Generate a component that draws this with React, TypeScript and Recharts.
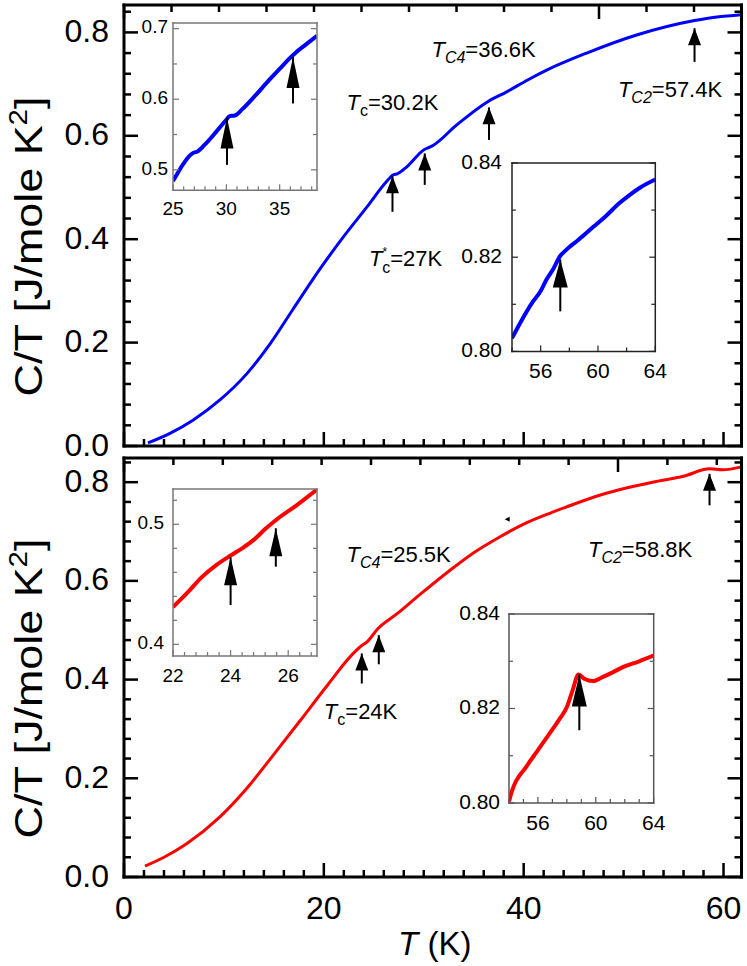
import { ComposedChart, Line, Scatter, XAxis, YAxis, ReferenceLine } from 'recharts'

const FONT = '"Liberation Sans", Arial, Helvetica, sans-serif'

// top panel (blue) main curve
const TOP_T = [2.4, 4.6, 6.9, 9.6, 12.3, 14.6, 16.9, 19.6, 21.9, 24.3, 26.3, 26.9, 27.4, 28.3, 30.1, 30.6, 30.9, 33.3, 36.4, 38.3, 40.4, 42.3, 46.3, 51.3, 57.1, 58.3, 61.8]
const TOP_C = [0.006, 0.0245, 0.05, 0.089, 0.14, 0.197, 0.264, 0.342, 0.403, 0.462, 0.512, 0.524, 0.527, 0.54, 0.574, 0.578, 0.581, 0.621, 0.666, 0.685, 0.708, 0.727, 0.76, 0.795, 0.823, 0.827, 0.834]

// bottom panel (red) main curve
const BOT_T = [2.1, 4.0, 6.3, 9.6, 12.3, 14.9, 17.6, 20.3, 22.9, 23.8, 24.3, 25.4, 27.3, 29.6, 32.6, 35.0, 37.6, 40.0, 42.6, 44.3, 48.0, 52.9, 56.0, 58.6, 59.9, 61.8]
const BOT_C = [0.022, 0.04, 0.068, 0.122, 0.18, 0.246, 0.316, 0.387, 0.452, 0.469, 0.476, 0.503, 0.533, 0.572, 0.621, 0.657, 0.689, 0.715, 0.737, 0.75, 0.776, 0.8, 0.812, 0.827, 0.825, 0.831]

// insets
const TL_T = [25, 25.5, 26, 26.5, 26.9, 27.3, 28, 29, 30, 30.3, 30.8, 31.5, 32.7, 34, 35, 36, 36.5, 37.5, 38.5]
const TL_C = [0.484, 0.497, 0.509, 0.519, 0.524, 0.526, 0.536, 0.553, 0.571, 0.576, 0.577, 0.586, 0.605, 0.627, 0.643, 0.659, 0.666, 0.678, 0.69]
const TR_T = [54, 54.6, 55.4, 56.0, 56.4, 56.9, 57.35, 57.8, 58.6, 59.7, 60.5, 61.5, 62.2, 62.9, 64]
const TR_C = [0.8028, 0.8062, 0.8103, 0.8128, 0.8152, 0.8176, 0.8202, 0.8216, 0.8236, 0.8265, 0.8286, 0.8315, 0.8332, 0.8347, 0.8365]
const BL_T = [22, 22.5, 23, 23.5, 24, 24.4, 24.8, 25.2, 25.6, 26.3, 27]
const BL_C = [0.431, 0.443, 0.456, 0.466, 0.474, 0.48, 0.487, 0.496, 0.504, 0.516, 0.529]
const BR_T = [54, 54.2, 55.2, 56.0, 56.8, 57.5, 58.0, 58.4, 58.8, 59.2, 59.8, 60.5, 61.2, 61.9, 63.0, 64]
const BR_C = [0.8003, 0.8025, 0.8077, 0.8112, 0.8147, 0.8178, 0.8203, 0.8239, 0.8272, 0.8263, 0.8258, 0.8267, 0.8277, 0.8288, 0.83, 0.8312]

// arrows: temperature, tip value, tail value
const TOP_ARROW_T = [26.87, 30.1, 36.53, 57.1]
const TOP_ARROW_TIP = [0.522, 0.566, 0.655, 0.808]
const TOP_ARROW_TAIL = [0.453, 0.505, 0.592, 0.743]
const BOT_ARROW_T = [23.8, 25.5, 58.6]
const BOT_ARROW_TIP = [0.453, 0.49, 0.817]
const BOT_ARROW_TAIL = [0.392, 0.431, 0.753]
const TL_ARROW_T = [30.06, 36.25]
const TL_ARROW_TIP = [0.574, 0.66]
const TL_ARROW_TAIL = [0.507, 0.594]
const TR_ARROW_T = [57.37]
const TR_ARROW_TIP = [0.8195]
const TR_ARROW_TAIL = [0.8085]
const BL_ARROW_T = [24.0, 25.57]
const BL_ARROW_TIP = [0.4725, 0.4967]
const BL_ARROW_TAIL = [0.4328, 0.4647]
const BR_ARROW_T = [58.86]
const BR_ARROW_TIP = [0.8272]
const BR_ARROW_TAIL = [0.8154]

// annotations
const TOP_NOTE_T = [22.27, 30.77, 49.43, 24.53]
const TOP_NOTE_C = [0.65, 0.752, 0.676, 0.348]
const TOP_NOTE_SUB = ['c', 'C4', 'C2', 'c']
const TOP_NOTE_VAL = ['=30.2K', '=36.6K', '=57.4K', '=27K']
const TOP_NOTE_STAR = [false, false, false, true]
const BOT_NOTE_T = [22.27, 46.43, 20.0]
const BOT_NOTE_C = [0.638, 0.648, 0.321]
const BOT_NOTE_SUB = ['C4', 'C2', 'c']
const BOT_NOTE_VAL = ['=25.5K', '=58.8K', '=24K']
const BOT_NOTE_STAR = [false, false, false]
const BOT_SPECK_T = [38.4]
const BOT_SPECK_C = [0.725]

// axis ticks
const MAIN_T_MAJOR = [0, 20, 40, 60]
const MAIN_C_MAJOR = [0, 0.2, 0.4, 0.6, 0.8]
const TL_T_MAJOR = [25, 30, 35]
const TL_C_MAJOR = [0.5, 0.6, 0.7]
const TR_T_MAJOR = [56, 60, 64]
const TR_C_MAJOR = [0.8, 0.82, 0.84]
const BL_T_MAJOR = [22, 24, 26]
const BL_C_MAJOR = [0.4, 0.5]
const BR_T_MAJOR = [56, 60, 64]
const BR_C_MAJOR = [0.8, 0.82, 0.84]

const range = (a: number, b: number, step: number) => {
  const out: number[] = []
  for (let i = 0; a + i * step <= b + 1e-9; i++) out.push(Math.round((a + i * step) * 10000) / 10000)
  return out
}
const zip = (t: number[], c: number[]) => t.map((T, i) => ({ T, C: c[i] }))
const isIn = (v: number, arr: number[]) => arr.some((a) => Math.abs(a - v) < 1e-6)

type Side = 'bottom' | 'top' | 'left' | 'right'
interface TickStyle {
  side: Side
  majors: number[]
  long: number
  short: number
  color: string
  width: number
  fmt?: (v: number) => string
  fontSize?: number
  gap?: number
}

function makeTick(s: TickStyle) {
  return (p: any) => {
    const { x, y, payload } = p
    const v = payload.value as number
    const major = isIn(v, s.majors)
    const len = major ? s.long : s.short
    const dx = s.side === 'left' ? len : s.side === 'right' ? -len : 0
    const dy = s.side === 'bottom' ? -len : s.side === 'top' ? len : 0
    let label = null
    if (major && s.fmt) {
      if (s.side === 'bottom')
        label = (
          <text x={x} y={y + (s.gap || 0)} textAnchor="middle" fontSize={s.fontSize} fontFamily={FONT} fill="#000">
            {s.fmt(v)}
          </text>
        )
      else if (s.side === 'left')
        label = (
          <text x={x - (s.gap || 0)} y={y - 2} dy="0.36em" textAnchor="end" fontSize={s.fontSize} fontFamily={FONT} fill="#000">
            {s.fmt(v)}
          </text>
        )
    }
    return (
      <g>
        <line x1={x} y1={y} x2={x + dx} y2={y + dy} stroke={s.color} strokeWidth={s.width} />
        {label}
      </g>
    )
  }
}

function arrowHead(w: number, h: number) {
  return (p: any) => {
    const { cx, cy } = p
    return <path d={`M${cx},${cy} L${cx - w / 2},${cy + h} L${cx + w / 2},${cy + h} Z`} fill="#000" />
  }
}

function Note(p: any) {
  const { cx, cy, payload } = p
  const star = payload.star
  const upper = payload.sub !== 'c'
  return (
    <text x={cx} y={cy} fontSize={22} fontFamily={FONT} fill="#000">
      <tspan fontStyle="italic">T</tspan>
      {star && (
        <tspan fontSize={12} dy={-10}>
          *
        </tspan>
      )}
      <tspan fontSize={16} fontStyle={upper ? 'italic' : 'normal'} dx={star ? -5 : 0} dy={star ? 17 : 6}>
        {payload.sub}
      </tspan>
      <tspan fontStyle="normal" dy={star ? -7 : -6}>
        {payload.val}
      </tspan>
    </text>
  )
}

function Speck(p: any) {
  const { cx, cy } = p
  return <path d={`M${cx - 3},${cy} L${cx + 2},${cy - 2.5} L${cx + 2},${cy + 2.5} Z`} fill="#000" />
}

function YTitle(p: any) {
  const vb = p.viewBox || { x: 123, y: 5, width: 1, height: 441 }
  const cx = vb.x + (vb.width || 0) - 82
  const cy = vb.y + vb.height / 2 + 21
  return (
    <text
      x={cx}
      y={cy}
      transform={`rotate(-90 ${cx} ${cy})`}
      textAnchor="middle"
      fontSize={38}
      fontFamily={FONT}
      fill="#000"
      textLength={300}
      lengthAdjust="spacingAndGlyphs"
    >
      C/T [J/mole K<tspan fontSize={25} dy={-15}>2</tspan>
      <tspan dy={15}>]</tspan>
    </text>
  )
}

function XTitle(p: any) {
  const vb = p.viewBox || { x: 124, y: 425, width: 617.5 }
  return (
    <text x={vb.x + vb.width / 2 + 2} y={vb.y + 78} textAnchor="middle" fontSize={33} fontFamily={FONT} fill="#000">
      <tspan fontStyle="italic">T</tspan> (K)
    </text>
  )
}

interface PanelProps {
  top: number
  height: number
  marginTop: number
  marginBottom: number
  yMax: number
  color: string
  t: number[]
  c: number[]
  arrowT: number[]
  arrowTip: number[]
  arrowTail: number[]
  noteT: number[]
  noteC: number[]
  noteSub: string[]
  noteVal: string[]
  noteStar: boolean[]
  showX: boolean
  speckT?: number[]
  speckC?: number[]
}

function Panel(p: PanelProps) {
  const data = zip(p.t, p.c)
  const arrows = zip(p.arrowT, p.arrowTip)
  const notes = p.noteT.map((T, i) => ({ T, C: p.noteC[i], sub: p.noteSub[i], val: p.noteVal[i], star: p.noteStar[i] }))
  const tTicks = range(0, 60, 2)
  const cTicks = range(0, 0.84, 0.04)
  const base = { majors: MAIN_T_MAJOR, long: 14, short: 7, color: '#000', width: 2.5 }
  const yBase = { majors: MAIN_C_MAJOR, long: 14, short: 7, color: '#000', width: 2.5 }
  const axisLine = { stroke: '#000', strokeWidth: 3, strokeLinecap: 'square' as const }
  return (
    <div style={{ position: 'absolute', left: 0, top: p.top }}>
      <ComposedChart
        width={747}
        height={p.height}
        data={data}
        margin={{ top: p.marginTop - 1, right: 4.5, bottom: p.marginBottom - 1, left: 123 }}
      >
        <XAxis
          xAxisId="b"
          dataKey="T"
          type="number"
          domain={[0, 61.8]}
          ticks={tTicks}
          interval={0}
          allowDataOverflow
          height={1}
          tickSize={0}
          tickMargin={0}
          tickLine={false}
          axisLine={axisLine}
          tick={makeTick({ ...base, side: 'bottom', fmt: p.showX ? (v) => String(v) : undefined, fontSize: 32, gap: 42 })}
          label={p.showX ? { content: (lp: any) => <XTitle {...lp} /> } : undefined}
        />
        <XAxis
          xAxisId="t"
          orientation="top"
          type="number"
          domain={[0, 61.8]}
          ticks={tTicks}
          interval={0}
          allowDataOverflow
          height={1}
          tickSize={0}
          tickMargin={0}
          tickLine={false}
          axisLine={axisLine}
          tick={makeTick({ ...base, side: 'top' })}
        />
        <YAxis
          yAxisId="l"
          dataKey="C"
          type="number"
          domain={[0, p.yMax]}
          ticks={cTicks}
          interval={0}
          allowDataOverflow
          width={1}
          tickSize={0}
          tickMargin={0}
          tickLine={false}
          axisLine={axisLine}
          tick={makeTick({ ...yBase, side: 'left', fmt: (v) => v.toFixed(1), fontSize: 32, gap: 15 })}
          label={{ content: (lp: any) => <YTitle {...lp} /> }}
        />
        <YAxis
          yAxisId="r"
          orientation="right"
          type="number"
          domain={[0, p.yMax]}
          ticks={cTicks}
          interval={0}
          allowDataOverflow
          width={1}
          tickSize={0}
          tickMargin={0}
          tickLine={false}
          axisLine={axisLine}
          tick={makeTick({ ...yBase, side: 'right' })}
        />
        <Line
          xAxisId="b"
          yAxisId="l"
          dataKey="C"
          type="monotone"
          stroke={p.color}
          strokeWidth={3}
          dot={false}
          activeDot={false}
          isAnimationActive={false}
        />
        {p.arrowT.map((t, i) => (
          <ReferenceLine
            key={'s' + i}
            xAxisId="b"
            yAxisId="l"
            segment={[
              { x: t, y: p.arrowTail[i] },
              { x: t, y: p.arrowTip[i] },
            ]}
            stroke="#000"
            strokeWidth={2}
            ifOverflow="visible"
          />
        ))}
        <Scatter xAxisId="b" yAxisId="l" data={arrows} shape={arrowHead(13, 17)} isAnimationActive={false} />
        <Scatter xAxisId="b" yAxisId="l" data={notes} shape={(sp: any) => <Note {...sp} />} isAnimationActive={false} />
        {p.speckT && (
          <Scatter xAxisId="b" yAxisId="l" data={zip(p.speckT, p.speckC || [])} shape={(sp: any) => <Speck {...sp} />} isAnimationActive={false} />
        )}
      </ComposedChart>
    </div>
  )
}

interface InsetProps {
  x0: number
  y0: number
  w: number
  h: number
  color: string
  t: number[]
  c: number[]
  xDom: [number, number]
  yDom: [number, number]
  xTicks: number[]
  yTicks: number[]
  xMajors: number[]
  yMajors: number[]
  yFmt: (v: number) => string
  fontSize: number
  xGap: number
  yGap: number
  frame: string
  arrowT: number[]
  arrowTip: number[]
  arrowTail: number[]
  headW: number
  headH: number
}

function Inset(p: InsetProps) {
  const m = { top: 12, right: 14, bottom: 40, left: 60 }
  const data = zip(p.t, p.c)
  const arrows = zip(p.arrowT, p.arrowTip)
  const axisLine = { stroke: p.frame, strokeWidth: 1.5, strokeLinecap: 'square' as const }
  const xs = { majors: p.xMajors, long: 6, short: 4, color: p.frame, width: 1.2 }
  const ys = { majors: p.yMajors, long: 6, short: 4, color: p.frame, width: 1.2 }
  return (
    <div style={{ position: 'absolute', left: p.x0 - m.left, top: p.y0 - m.top }}>
      <ComposedChart
        width={p.w + m.left + m.right}
        height={p.h + m.top + m.bottom}
        data={data}
        margin={{ top: m.top - 1, right: m.right - 1, bottom: m.bottom - 1, left: m.left - 1 }}
      >
        <XAxis
          xAxisId="b"
          dataKey="T"
          type="number"
          domain={p.xDom}
          ticks={p.xTicks}
          interval={0}
          allowDataOverflow
          height={1}
          tickSize={0}
          tickMargin={0}
          tickLine={false}
          axisLine={axisLine}
          tick={makeTick({ ...xs, side: 'bottom', fmt: (v) => String(v), fontSize: p.fontSize, gap: p.xGap })}
        />
        <XAxis
          xAxisId="t"
          orientation="top"
          type="number"
          domain={p.xDom}
          ticks={p.xTicks}
          interval={0}
          allowDataOverflow
          height={1}
          tickSize={0}
          tickMargin={0}
          tickLine={false}
          axisLine={axisLine}
          tick={makeTick({ ...xs, side: 'top' })}
        />
        <YAxis
          yAxisId="l"
          dataKey="C"
          type="number"
          domain={p.yDom}
          ticks={p.yTicks}
          interval={0}
          allowDataOverflow
          width={1}
          tickSize={0}
          tickMargin={0}
          tickLine={false}
          axisLine={axisLine}
          tick={makeTick({ ...ys, side: 'left', fmt: p.yFmt, fontSize: p.fontSize, gap: p.yGap })}
        />
        <YAxis
          yAxisId="r"
          orientation="right"
          type="number"
          domain={p.yDom}
          ticks={p.yTicks}
          interval={0}
          allowDataOverflow
          width={1}
          tickSize={0}
          tickMargin={0}
          tickLine={false}
          axisLine={axisLine}
          tick={makeTick({ ...ys, side: 'right' })}
        />
        <Line
          xAxisId="b"
          yAxisId="l"
          dataKey="C"
          type="monotone"
          stroke={p.color}
          strokeWidth={4}
          dot={false}
          activeDot={false}
          isAnimationActive={false}
        />
        {p.arrowT.map((t, i) => (
          <ReferenceLine
            key={'s' + i}
            xAxisId="b"
            yAxisId="l"
            segment={[
              { x: t, y: p.arrowTail[i] },
              { x: t, y: p.arrowTip[i] },
            ]}
            stroke="#000"
            strokeWidth={2}
            ifOverflow="visible"
          />
        ))}
        <Scatter xAxisId="b" yAxisId="l" data={arrows} shape={arrowHead(p.headW, p.headH)} isAnimationActive={false} />
      </ComposedChart>
    </div>
  )
}

export default function App() {
  return (
    <div style={{ position: 'absolute', left: 0, top: 0, width: 747, height: 966, background: '#fff', fontFamily: FONT }}>
      <Panel
        top={452}
        height={514}
        marginTop={6}
        marginBottom={89}
        yMax={0.849}
        color="#ff0000"
        t={BOT_T}
        c={BOT_C}
        arrowT={BOT_ARROW_T}
        arrowTip={BOT_ARROW_TIP}
        arrowTail={BOT_ARROW_TAIL}
        noteT={BOT_NOTE_T}
        noteC={BOT_NOTE_C}
        noteSub={BOT_NOTE_SUB}
        noteVal={BOT_NOTE_VAL}
        noteStar={BOT_NOTE_STAR}
        showX={true}
        speckT={BOT_SPECK_T}
        speckC={BOT_SPECK_C}
      />
      <Panel
        top={0}
        height={475}
        marginTop={5}
        marginBottom={29}
        yMax={0.853}
        color="#0000ff"
        t={TOP_T}
        c={TOP_C}
        arrowT={TOP_ARROW_T}
        arrowTip={TOP_ARROW_TIP}
        arrowTail={TOP_ARROW_TAIL}
        noteT={TOP_NOTE_T}
        noteC={TOP_NOTE_C}
        noteSub={TOP_NOTE_SUB}
        noteVal={TOP_NOTE_VAL}
        noteStar={TOP_NOTE_STAR}
        showX={false}
      />
      <Inset
        x0={172.7}
        y0={22.7}
        w={144}
        h={167.3}
        color="#0000ff"
        t={TL_T}
        c={TL_C}
        xDom={[25, 38.5]}
        yDom={[0.471, 0.708]}
        xTicks={range(25, 38, 1)}
        yTicks={range(0.5, 0.7, 0.05)}
        xMajors={TL_T_MAJOR}
        yMajors={TL_C_MAJOR}
        yFmt={(v) => v.toFixed(1)}
        fontSize={19}
        xGap={25}
        yGap={5}
        frame="#777"
        arrowT={TL_ARROW_T}
        arrowTip={TL_ARROW_TIP}
        arrowTail={TL_ARROW_TAIL}
        headW={13}
        headH={31}
      />
      <Inset
        x0={511.7}
        y0={163.3}
        w={143.3}
        h={188.4}
        color="#0000ff"
        t={TR_T}
        c={TR_C}
        xDom={[54, 64]}
        yDom={[0.8, 0.84]}
        xTicks={range(54, 64, 2)}
        yTicks={range(0.8, 0.84, 0.01)}
        xMajors={TR_T_MAJOR}
        yMajors={TR_C_MAJOR}
        yFmt={(v) => v.toFixed(2)}
        fontSize={21}
        xGap={27}
        yGap={10}
        frame="#222"
        arrowT={TR_ARROW_T}
        arrowTip={TR_ARROW_TIP}
        arrowTail={TR_ARROW_TAIL}
        headW={15}
        headH={28}
      />
      <Inset
        x0={172.7}
        y0={489}
        w={144}
        h={167}
        color="#ff0000"
        t={BL_T}
        c={BL_C}
        xDom={[22, 27]}
        yDom={[0.3903, 0.5294]}
        xTicks={range(22, 27, 0.4)}
        yTicks={range(0.4, 0.52, 0.02)}
        xMajors={BL_T_MAJOR}
        yMajors={BL_C_MAJOR}
        yFmt={(v) => v.toFixed(1)}
        fontSize={19}
        xGap={26}
        yGap={9}
        frame="#777"
        arrowT={BL_ARROW_T}
        arrowTip={BL_ARROW_TIP}
        arrowTail={BL_ARROW_TAIL}
        headW={13}
        headH={28}
      />
      <Inset
        x0={509.3}
        y0={614.3}
        w={144.7}
        h={189}
        color="#ff0000"
        t={BR_T}
        c={BR_C}
        xDom={[54, 64]}
        yDom={[0.8, 0.84]}
        xTicks={range(54, 64, 1)}
        yTicks={range(0.8, 0.84, 0.01)}
        xMajors={BR_T_MAJOR}
        yMajors={BR_C_MAJOR}
        yFmt={(v) => v.toFixed(2)}
        fontSize={21}
        xGap={27}
        yGap={9}
        frame="#555"
        arrowT={BR_ARROW_T}
        arrowTip={BR_ARROW_TIP}
        arrowTail={BR_ARROW_TAIL}
        headW={15}
        headH={32}
      />
    </div>
  )
}
